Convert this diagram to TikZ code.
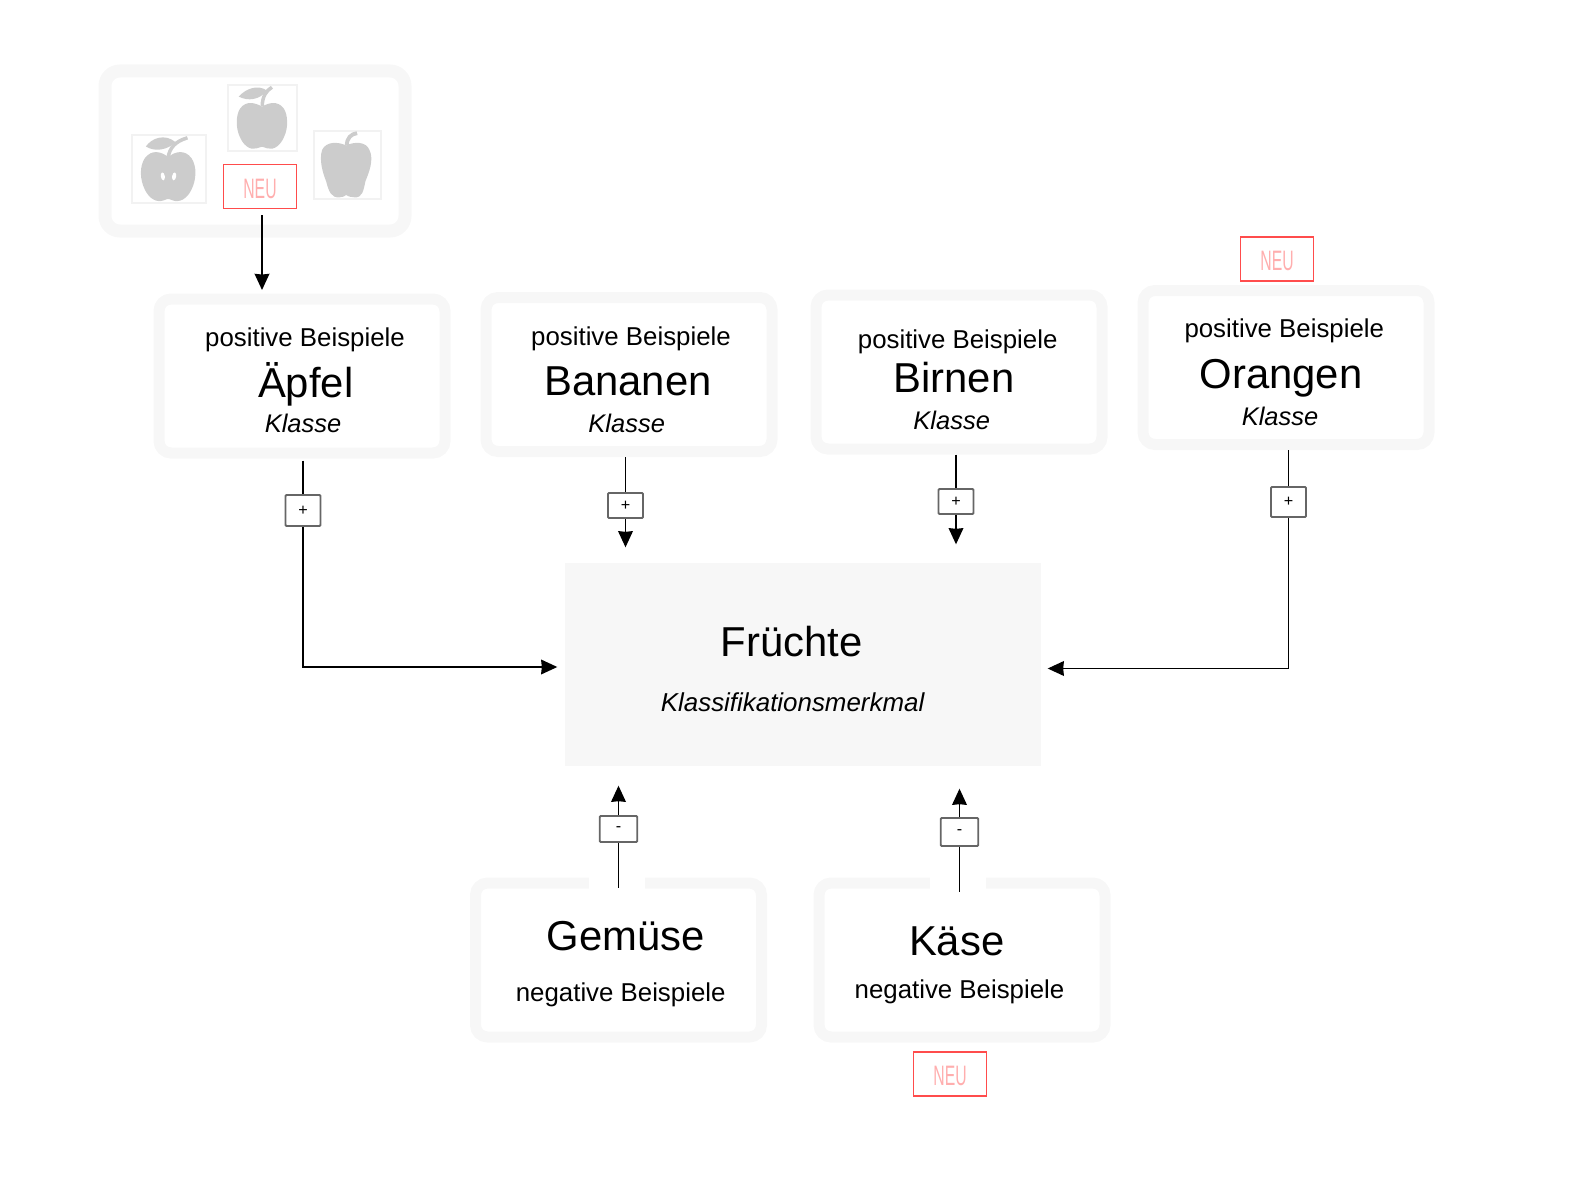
\documentclass[tikz,border=0pt]{standalone}
\usepackage{fontspec}
\setmainfont{Liberation Sans}
\newfontfamily\neufont[FakeStretch=0.56]{Liberation Sans}
\usetikzlibrary{arrows.meta}
\definecolor{framegray}{HTML}{F7F7F7}
\definecolor{applegray}{HTML}{CCCCCC}
\definecolor{boxgray}{HTML}{F2F2F2}
\definecolor{neured}{HTML}{FF4C4C}
\definecolor{signgray}{HTML}{666666}
\tikzset{
  frame/.style={draw=framegray, line width=0.11cm, rounded corners=0.12cm, minimum width=2.86cm, minimum height=1.54cm},
  framegap/.style={fill=white, inner sep=0pt, minimum width=0.56cm, minimum height=0.17cm},
  small/.style={anchor=base, font=\fontsize{7.35}{8}\selectfont},
  big/.style={anchor=base, font=\fontsize{11.9}{13}\selectfont},
  klasse/.style={anchor=base, font=\fontsize{7.25}{8}\selectfont\itshape},
  neu/.style={draw=neured, line width=0.35pt, minimum width=0.73cm, minimum height=0.44cm, inner sep=0pt, text height=0.24cm, text=neured!45, font=\fontsize{8}{8}\neufont},
  signbox/.style={draw=signgray, fill=white, line width=0.55pt, rounded corners=0.3pt, minimum width=0.35cm, inner sep=0pt, font=\fontsize{4.6}{5}\selectfont},
  pictobox/.style={draw=boxgray, line width=0.3pt},
  link/.style={line width=0.4pt}
}
\begin{document}
\begin{tikzpicture}[>={Stealth[inset=0.2pt,length=4.6pt,width=4.2pt]}]
  \useasboundingbox (0,0) rectangle (15.87,11.91);

  \node[frame, line width=0.13cm, rounded corners=0.15cm, minimum width=3cm, minimum height=1.6cm] (frameapples) at (2.55,10.40) {};
  \draw[pictobox] (1.32,9.88) rectangle (2.06,9.88+0.68);
  \draw[pictobox] (2.28,10.40) rectangle (2.97,11.06);
  \draw[pictobox] (3.14,9.92) rectangle (3.81,10.60);

  \begin{scope}[shift={(0.9cm,11.41cm)}, x=0.003333cm, y=-0.003333cm]
    \fill[applegray] (235,322) .. controls (215,305) and (185,298) .. (165,325) .. controls (148,350) and (150,390) .. (165,420) .. controls (178,447) and (200,460) .. (222,452) .. controls (228,449) and (233,448) .. (235,448) .. controls (237,448) and (242,449) .. (248,452) .. controls (270,460) and (292,447) .. (305,420) .. controls (320,390) and (322,350) .. (305,325) .. controls (285,298) and (255,305) .. (235,322);
    \fill[applegray] (168,290) .. controls (185,265) and (225,250) .. (257,277) .. controls (235,300) and (195,308) .. (168,290);
    \draw[applegray, line width=1pt] (235,322) .. controls (240,295) and (255,275) .. (293,264);
    \fill[white, rotate around={10:(219,380)}] (219,380) ellipse (6 and 12);
    \fill[white, rotate around={-10:(253,380)}] (253,380) ellipse (6 and 12);
    \fill[applegray] (517,170) .. controls (495,158) and (470,152) .. (452,175) .. controls (438,195) and (438,235) .. (450,260) .. controls (460,285) and (480,302) .. (500,296) .. controls (510,293) and (515,291) .. (517,291) .. controls (519,291) and (524,293) .. (534,296) .. controls (554,302) and (574,285) .. (584,260) .. controls (596,235) and (596,195) .. (582,175) .. controls (564,152) and (539,158) .. (517,170);
    \fill[applegray] (447,140) .. controls (470,115) and (505,103) .. (532,122) .. controls (510,150) and (475,155) .. (447,140);
    \draw[applegray, line width=1pt] (518,168) .. controls (518,140) and (530,122) .. (547,112);
    \fill[applegray] (770,287) .. controls (745,275) and (710,275) .. (698,300) .. controls (688,330) and (700,370) .. (710,395) .. controls (718,425) and (725,445) .. (750,443) .. controls (760,443) and (765,440) .. (770,436) .. controls (775,440) and (785,443) .. (795,443) .. controls (818,445) and (822,425) .. (828,395) .. controls (838,370) and (855,330) .. (840,300) .. controls (830,275) and (795,275) .. (770,287);
    \draw[applegray, line width=1.1pt] (772,287) .. controls (772,265) and (785,252) .. (803,250);
  \end{scope}

  \node[neu] (neuapples) at (2.60,10.045) {NEU};
  \node[neu] (neuorangen) at (12.77,9.32) {NEU};
  \node[neu] (neukaese) at (9.50,1.17) {NEU};

  \node[frame] (frameaepfel) at (3.02,8.15) {};
  \node[small] (posaepfel) at (3.05,8.443) {positive Beispiele};
  \node[big] (nameaepfel) at (3.057,7.933) {Äpfel};
  \node[klasse] (klasseaepfel) at (3.03,7.583) {Klasse};

  \node[frame] (framebananen) at (6.29,8.165) {};
  \node[small] (posbananen) at (6.31,8.46) {positive Beispiele};
  \node[big] (namebananen) at (6.28,7.96) {Bananen};
  \node[klasse] (klassebananen) at (6.267,7.583) {Klasse};

  \node[frame] (framebirnen) at (9.59,8.19) {};
  \node[small] (posbirnen) at (9.577,8.43) {positive Beispiele};
  \node[big] (namebirnen) at (9.54,7.983) {Birnen};
  \node[klasse] (klassebirnen) at (9.517,7.62) {Klasse};

  \node[frame] (frameorangen) at (12.86,8.235) {};
  \node[small] (posorangen) at (12.843,8.537) {positive Beispiele};
  \node[big] (nameorangen) at (12.81,8.027) {Orangen};
  \node[klasse] (klasseorangen) at (12.80,7.66) {Klasse};

  \node[fill=framegray, minimum width=4.76cm, minimum height=2.03cm, inner sep=0pt] (fruechte) at (8.03,5.265) {};
  \node[big] (namefruechte) at (7.916,5.35) {Früchte};
  \node[klasse, font=\fontsize{7.37}{8}\selectfont\itshape] (merkmal) at (7.926,4.795) {Klassifikationsmerkmal};

  \node[frame] (framegemuese) at (6.185,2.31) {};
  \node[big] (namegemuese) at (6.26,2.403) {Gemüse};
  \node[small] (neggemuese) at (6.207,1.895) {negative Beispiele};

  \node[frame] (framekaese) at (9.62,2.31) {};
  \node[big] (namekaese) at (9.567,2.353) {Käse};
  \node[small] (negkaese) at (9.595,1.925) {negative Beispiele};

  \node[framegap] (gapgemuese) at (6.17,3.08) {};
  \node[framegap] (gapkaese) at (9.58,3.08) {};

  \node[signbox, minimum height=0.31cm] (plusaepfel) at (3.03,6.805) {+};
  \node[signbox, minimum height=0.25cm] (plusbananen) at (6.255,6.855) {+};
  \node[signbox, minimum height=0.25cm] (plusbirnen) at (9.56,6.895) {+};
  \node[signbox, minimum height=0.30cm] (plusorangen) at (12.885,6.89) {+};
  \node[signbox, minimum width=0.375cm, minimum height=0.26cm] (minusgemuese) at (6.185,3.62) {-};
  \node[signbox, minimum width=0.375cm, minimum height=0.28cm] (minuskaese) at (9.595,3.59) {-};

  \draw[link, ->, shorten <=0.06cm, shorten >=0.035cm] ([xshift=0.02cm]neuapples.south) -- ([xshift=0.02cm]neuapples.south |- frameaepfel.north);

  \draw[link, shorten <=0.02cm] (frameaepfel.south -| plusaepfel) -- (plusaepfel.north);
  \draw[link, ->, shorten >=0.07cm] (plusaepfel.south) |- ([yshift=-0.025cm]fruechte.west);

  \draw[link] (framebananen.south -| plusbananen) -- (plusbananen.north);
  \draw[link, ->, shorten >=0.15cm] (plusbananen.south) -- (fruechte.north -| plusbananen);

  \draw[link] (framebirnen.south -| plusbirnen) -- (plusbirnen.north);
  \draw[link, ->, shorten >=0.18cm] (plusbirnen.south) -- (fruechte.north -| plusbirnen);

  \draw[link] (frameorangen.south -| plusorangen) -- (plusorangen.north);
  \draw[link, ->, shorten >=0.06cm] (plusorangen.south) |- ([yshift=-0.04cm]fruechte.east);

  \draw[link, shorten >=-0.105cm] (minusgemuese.south) -- (framegemuese.north -| minusgemuese);
  \draw[link, ->, shorten >=0.19cm] (minusgemuese.north) -- (fruechte.south -| minusgemuese);

  \draw[link, shorten >=-0.145cm] (minuskaese.south) -- (framekaese.north -| minuskaese);
  \draw[link, ->, shorten >=0.22cm] (minuskaese.north) -- (fruechte.south -| minuskaese);
\end{tikzpicture}
\end{document}
